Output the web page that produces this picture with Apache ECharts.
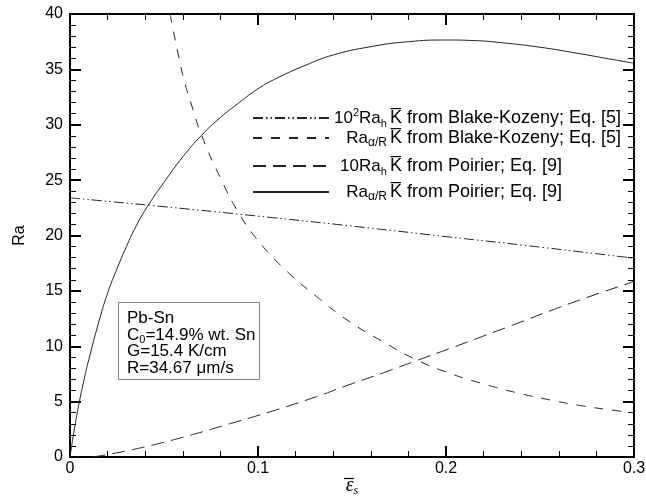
<!DOCTYPE html>
<html>
<head>
<meta charset="utf-8">
<script src="https://cdn.jsdelivr.net/npm/echarts@6/dist/echarts.min.js"></script>
<style>
  html, body { margin: 0; padding: 0; background: #fff; }
  #chart { width: 646px; height: 499px; }
</style>
</head>
<body>
<div id="chart"></div>
<script>
// Ra_alpha/R, K from Poirier (solid)
const poirierAlphaEps = [0, 0.0025, 0.005, 0.0075, 0.01, 0.015, 0.02, 0.025, 0.03, 0.035, 0.0415, 0.05, 0.06, 0.07, 0.08, 0.09, 0.1, 0.11, 0.125, 0.14, 0.16, 0.18, 0.2, 0.215, 0.23, 0.25, 0.27, 0.285, 0.3]
const poirierAlphaRa = [0, 2.7, 5.0, 7.0, 8.8, 12.0, 14.8, 17.0, 19.0, 20.8, 22.7, 24.8, 27.1, 29.05, 30.65, 32.0, 33.25, 34.2, 35.35, 36.3, 37.05, 37.5, 37.65, 37.6, 37.4, 37.0, 36.45, 36.0, 35.55]

// 10 Ra_h, K from Poirier (long dash)
const poirierHEps = [0.012, 0.02, 0.03, 0.04, 0.05, 0.06, 0.07, 0.08, 0.09, 0.1, 0.1133, 0.1311, 0.1489, 0.1666, 0.184, 0.2021, 0.2199, 0.2377, 0.2554, 0.2732, 0.3]
const poirierHRa = [0, 0.22, 0.55, 0.92, 1.33, 1.78, 2.25, 2.75, 3.25, 3.75, 4.45, 5.45, 6.55, 7.6, 8.68, 9.8, 10.92, 12.05, 13.2, 14.3, 15.85]

// Ra_alpha/R, K from Blake-Kozeny (short dash)
const bkAlphaEps = [0.0532, 0.0575, 0.0612, 0.065, 0.07, 0.08, 0.0904, 0.1, 0.1133, 0.1311, 0.1489, 0.1666, 0.184, 0.2021, 0.2199, 0.2377, 0.2554, 0.2732, 0.29, 0.3]
const bkAlphaRa = [40, 36.4, 33.7, 31.6, 29.05, 25.2, 21.85, 19.55, 17.1, 14.5, 12.2, 10.4, 8.8, 7.55, 6.6, 5.8, 5.15, 4.6, 4.2, 4.0]

// 10^2 Ra_h, K from Blake-Kozeny (dash-dot-dot)
const bkHEps = [0, 0.05, 0.1, 0.15, 0.2, 0.25, 0.3]
const bkHRa = [23.4, 22.6, 21.75, 20.85, 19.9, 18.95, 17.95]

const xTicks = { min: 0, max: 0.3, interval: 0.1 }
const yTicks = { min: 0, max: 40, interval: 5 }

const boxLines = ['{t|Pb-Sn}', '{t|C}{sub|0}{t|=14.9% wt. Sn}', '{t|G=15.4 K/cm}', '{t|R=34.67 \u03bcm/s}']

const FONT = 'Liberation Sans, Arial, sans-serif'
const KBAR = 'K\u0305'

function pairs(xs, ys) {
  return xs.map((x, i) => [x, ys[i]])
}

// legend prefixes as rich fragments, right aligned by measuring them
const ctx = document.createElement('canvas').getContext('2d')
const sizes = { n: 17, m: 18, sub: 11, sup: 11, sa: 12 }
function tw(style, t) {
  ctx.font = sizes[style] + 'px "Liberation Sans"'
  return ctx.measureText(t).width
}
const legendRows = [
  { name: 'bkH', prefix: [['n', '10'], ['sup', '2'], ['n', 'Ra'], ['sub', 'h']], rest: ' from Blake-Kozeny; Eq. [5]', top: 107 },
  { name: 'bkAlpha', prefix: [['n', 'Ra'], ['sa', '\u03b1/R']], rest: ' from Blake-Kozeny; Eq. [5]', top: 129 },
  { name: 'poirierH', prefix: [['n', '10Ra'], ['sub', 'h']], rest: ' from Poirier; Eq. [9]', top: 157 },
  { name: 'poirierAlpha', prefix: [['n', 'Ra'], ['sa', '\u03b1/R']], rest: ' from Poirier; Eq. [9]', top: 183 }
]
const prefixW = legendRows.map(r => r.prefix.reduce((s, p) => s + tw(p[0], p[1]), 0))
const maxW = Math.max(...prefixW)

const rich = {
  n: { fontSize: 17, lineHeight: 22, fontFamily: FONT, color: '#000' },
  m: { fontSize: 18, lineHeight: 22, fontFamily: FONT, color: '#000' },
  gap: { width: 3, lineHeight: 22 },
  sup: { fontSize: 11, lineHeight: 11, verticalAlign: 'top', fontFamily: FONT, color: '#000' },
  sub: { fontSize: 11, lineHeight: 9, verticalAlign: 'bottom', fontFamily: FONT, color: '#000' },
  sa: { fontSize: 12, lineHeight: 9, verticalAlign: 'bottom', fontFamily: FONT, color: '#000' }
}
legendRows.forEach((r, i) => {
  rich['pad' + i] = { width: Math.max(0, maxW - prefixW[i]), lineHeight: 22 }
})

const legends = legendRows.map((r, i) => ({
  data: [r.name],
  left: 252,
  top: r.top,
  orient: 'vertical',
  padding: 0,
  itemWidth: 76,
  itemHeight: 1,
  selectedMode: false,
  itemStyle: { color: 'transparent', borderColor: 'transparent', borderWidth: 0 },
  formatter: () => '{pad' + i + '| }' + r.prefix.map(p => '{' + p[0] + '|' + p[1] + '}').join('') + '{gap| }{m|' + KBAR + r.rest + '}',
  textStyle: { color: '#000', fontSize: 18, fontFamily: FONT, rich: rich }
}))

function lineSeries(name, data, type) {
  return {
    name: name,
    type: 'line',
    data: data,
    symbol: 'none',
    smooth: 0.5,
    clip: true,
    lineStyle: { color: '#222', width: 1, type: type },
    itemStyle: { color: '#222' }
  }
}

const axisCommon = {
  type: 'value',
  axisLine: { show: true, onZero: false, lineStyle: { color: '#000', width: 2 } },
  axisTick: { show: true, inside: true, length: 11, lineStyle: { color: '#000', width: 2 } },
  minorTick: { show: true, splitNumber: 5, length: 6, lineStyle: { color: '#000', width: 1 } },
  splitLine: { show: false },
  minorSplitLine: { show: false }
}

const chart = echarts.init(document.getElementById('chart'))
chart.setOption({
  animation: false,
  backgroundColor: '#fff',
  grid: { left: 70, right: 12, top: 14, bottom: 42, outerBoundsMode: 'none', containLabel: false },
  legend: legends,
  xAxis: [
    Object.assign({}, axisCommon, xTicks, {
      position: 'bottom',
      axisLabel: {
        color: '#000', fontSize: 16, fontFamily: FONT, margin: 4,
        formatter: v => (v === 0 ? '0' : v.toFixed(1))
      },
      name: '{e|\u03b5}{s|s}',
      nameLocation: 'middle',
      nameGap: 18,
      nameMoveOverlap: false,
      nameTextStyle: {
        rich: {
          e: { fontSize: 20, fontStyle: 'italic', fontFamily: 'Liberation Serif', color: '#000', lineHeight: 22 },
          s: { fontSize: 12, fontStyle: 'italic', fontFamily: 'Liberation Serif', color: '#000', lineHeight: 14, verticalAlign: 'bottom' }
        }
      }
    }),
    Object.assign({}, axisCommon, xTicks, { position: 'top', axisLabel: { show: false } })
  ],
  yAxis: [
    Object.assign({}, axisCommon, yTicks, {
      position: 'left',
      axisLabel: { color: '#000', fontSize: 16, fontFamily: FONT, margin: 7 },
      name: 'Ra',
      nameLocation: 'middle',
      nameGap: 42,
      nameMoveOverlap: false,
      nameTextStyle: { color: '#000', fontSize: 16, fontFamily: FONT }
    }),
    Object.assign({}, axisCommon, yTicks, { position: 'right', axisLabel: { show: false } })
  ],
  series: [
    lineSeries('bkH', pairs(bkHEps, bkHRa), [10, 3, 1.5, 3, 1.5, 3]),
    lineSeries('bkAlpha', pairs(bkAlphaEps, bkAlphaRa), [9, 9]),
    lineSeries('poirierH', pairs(poirierHEps, poirierHRa), [13, 7]),
    lineSeries('poirierAlpha', pairs(poirierAlphaEps, poirierAlphaRa), 'solid')
  ],
  graphic: [
    {
      // overbar of the x-axis symbol
      type: 'line',
      shape: { x1: 344, y1: 478.5, x2: 354, y2: 478.5 },
      style: { stroke: '#000', lineWidth: 1.2 }
    },
    {
      type: 'rect',
      shape: { x: 118.5, y: 302.5, width: 141, height: 77 },
      style: { fill: '#fff', stroke: '#808080', lineWidth: 1 },
      z: 10
    },
    {
      type: 'text',
      x: 127,
      y: 310,
      z: 11,
      style: {
        text: boxLines.join('\n'),
        fontSize: 17,
        fontFamily: FONT,
        fill: '#000',
        rich: {
          t: { fontSize: 17, lineHeight: 16.6, fontFamily: FONT, fill: '#000' },
          sub: { fontSize: 11, lineHeight: 8, padding: [8, 0, 0, 0], verticalAlign: 'top', fontFamily: FONT, fill: '#000' }
        }
      }
    }
  ]
})
</script>
</body>
</html>
